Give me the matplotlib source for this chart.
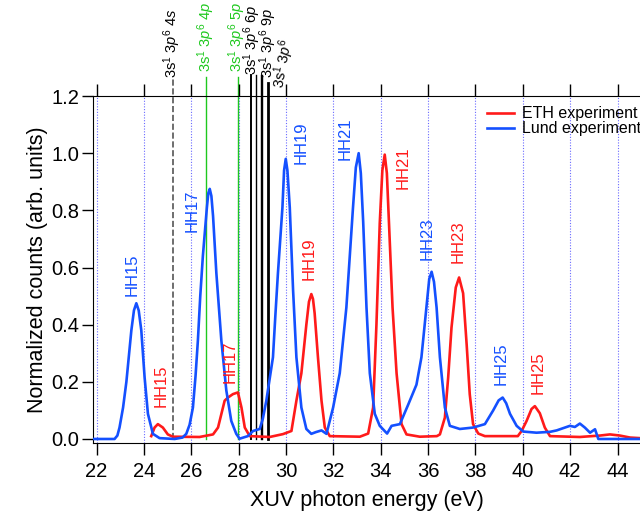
import matplotlib
matplotlib.use('Agg')
import matplotlib.pyplot as plt

plt.rcParams['font.family'] = ['Liberation Sans', 'DejaVu Sans']
plt.rcParams['mathtext.fontset'] = 'custom'
plt.rcParams['mathtext.rm'] = 'Liberation Sans'
plt.rcParams['mathtext.it'] = 'Liberation Sans:italic'

RED = '#ff1a1a'
BLUE = '#1450ff'
GREEN = '#1ec81e'

# Lund experiment (blue)
lund_e = [21.83, 22.76, 22.88, 22.97, 23.12, 23.26, 23.47, 23.58, 23.68, 23.78,
          23.89, 24.03, 24.17, 24.38, 24.66, 25.30, 25.63, 25.79, 25.93, 26.07,
          26.18, 26.28, 26.38, 26.49, 26.66, 26.72, 26.78, 26.85, 26.92, 27.06,
          27.27, 27.48, 27.69, 27.90, 28.04, 28.39, 28.61, 28.89, 29.02, 29.17,
          29.45, 29.55, 29.66, 29.85, 29.92, 29.99, 30.06, 30.16, 30.30, 30.44,
          30.65, 30.86, 31.07, 31.26, 31.50, 31.71, 31.99, 32.27, 32.55, 32.83,
          32.95, 33.07, 33.16, 33.26, 33.40, 33.54, 33.75, 33.96, 34.27, 34.46,
          34.81, 35.16, 35.51, 35.72, 35.93, 36.05, 36.15, 36.25, 36.36, 36.50,
          36.71, 36.92, 37.34, 37.90, 38.40, 38.75, 38.98, 39.15, 39.30, 39.46,
          39.74, 40.02, 40.58, 41.15, 41.43, 41.99, 42.20, 42.41, 42.62, 42.84,
          43.05, 43.19, 44.95]
lund_v = [0.0, 0.0, 0.012, 0.04, 0.11, 0.20, 0.38, 0.45, 0.475, 0.45,
          0.38, 0.215, 0.088, 0.018, 0.003, 0.0, 0.005, 0.018, 0.05, 0.11,
          0.22, 0.345, 0.50, 0.64, 0.81, 0.86, 0.875, 0.85, 0.78, 0.58,
          0.345, 0.17, 0.063, 0.018, 0.001, 0.01, 0.028, 0.035, 0.07, 0.134,
          0.286, 0.43, 0.58, 0.81, 0.94, 0.98, 0.94, 0.81, 0.52, 0.286,
          0.11, 0.035, 0.018, 0.024, 0.03, 0.018, 0.11, 0.23, 0.46, 0.81,
          0.95, 1.0, 0.93, 0.76, 0.46, 0.23, 0.088, 0.046, 0.019, 0.046,
          0.052, 0.12, 0.19, 0.286, 0.46, 0.56, 0.585, 0.55, 0.46, 0.286,
          0.11, 0.046, 0.035, 0.04, 0.052, 0.10, 0.135, 0.145, 0.125, 0.088,
          0.046, 0.026, 0.022, 0.025, 0.03, 0.046, 0.042, 0.054, 0.04, 0.022,
          0.034, 0.0, 0.0]

# ETH experiment (red)
eth_e = [24.31, 24.45, 24.59, 24.80, 25.01, 25.22, 26.35, 26.92, 27.13, 27.27,
         27.41, 27.55, 27.76, 27.97, 28.12, 28.26, 28.47, 29.31, 29.87, 30.23,
         30.44, 30.65, 30.86, 30.97, 31.07, 31.14, 31.21, 31.35, 31.50, 31.64,
         31.85, 33.12, 33.47, 33.68, 33.82, 33.96, 34.07, 34.17, 34.26, 34.35,
         34.50, 34.67, 34.88, 35.09, 35.65, 36.37, 36.50, 36.71, 36.85, 36.99,
         37.17, 37.31, 37.48, 37.63, 37.76, 37.90, 38.12, 38.40, 39.79, 39.95,
         40.16, 40.37, 40.51, 40.72, 40.93, 41.15, 42.41, 43.26, 43.68, 44.10,
         44.53, 44.95]
eth_v = [0.01, 0.04, 0.052, 0.04, 0.016, 0.008, 0.007, 0.016, 0.04, 0.087,
         0.134, 0.145, 0.157, 0.163, 0.11, 0.04, 0.01, 0.007, 0.017, 0.028,
         0.134, 0.23, 0.40, 0.48, 0.507, 0.49, 0.44, 0.286, 0.134, 0.04,
         0.01, 0.008, 0.019, 0.11, 0.40, 0.755, 0.94, 0.995, 0.93, 0.755,
         0.46, 0.23, 0.052, 0.016, 0.008, 0.01, 0.016, 0.075, 0.216, 0.39,
         0.53, 0.565, 0.51, 0.33, 0.157, 0.052, 0.019, 0.01, 0.01, 0.028,
         0.063, 0.105, 0.115, 0.09, 0.04, 0.01, 0.007, 0.012, 0.016, 0.012,
         0.005, 0.003]

# harmonic labels
hh_text = ['HH15', 'HH15', 'HH17', 'HH17', 'HH19', 'HH19',
           'HH21', 'HH21', 'HH23', 'HH23', 'HH25', 'HH25']
hh_series = ['lund', 'eth', 'lund', 'eth', 'lund', 'eth',
             'lund', 'eth', 'lund', 'eth', 'lund', 'eth']
hh_e = [23.49, 24.74, 26.05, 27.65, 30.65, 30.97,
        32.49, 34.94, 35.96, 37.26, 39.10, 40.64]
hh_v = [0.574, 0.187, 0.80, 0.27, 1.035, 0.63,
        1.05, 0.95, 0.70, 0.69, 0.264, 0.232]

# Ar+ 3s -> np transitions
lvl_e = [25.21, 26.61, 27.99, 28.51, 28.75, 28.93, 29.00, 29.24]
lvl_top = [1.265, 1.267, 1.267, 1.274, 1.274, 1.274, 1.274, 1.246]
lvl_text = ['3s$^1$ 3$p^6$ 4$s$', '3s$^1$ 3$p^6$ 4$p$', '3s$^1$ 3$p^6$ 5$p$',
            '3s$^1$ 3$p^6$ 6$p$', '3s$^1$ 3$p^6$ 9$p$', '3s$^1$ 3$p^6$']
lvl_text_e = [25.21, 26.61, 27.92, 28.58, 29.24, 29.90]
lvl_text_v = [1.263, 1.284, 1.284, 1.274, 1.263, 1.221]
lvl_text_col = ['k', GREEN, GREEN, 'k', 'k', 'k']

xticks = [22, 24, 26, 28, 30, 32, 34, 36, 38, 40, 42, 44]
yticks = [0.0, 0.2, 0.4, 0.6, 0.8, 1.0, 1.2]

fig = plt.figure(figsize=(6.4, 5.11), dpi=100)
ax = fig.add_axes([0.1453, 0.1331, 0.8547, 0.679])

for x in xticks:
    ax.axvline(x, color='#6a6aff', lw=0.8, ls=(0, (1, 1.5)), zorder=0)

styles = ['--', '-', '-', '-', '-', '-', '-', '-']
colors = ['#555555', GREEN, GREEN, 'k', 'k', 'k', 'k', 'k']
widths = [1.2, 1.0, 1.0, 1.4, 1.0, 1.0, 1.0, 2.0]
for e, top, ls, c, lw in zip(lvl_e, lvl_top, styles, colors, widths):
    ax.plot([e, e], [0, top], ls=ls, color=c, lw=lw, clip_on=False, zorder=1)

ax.plot(eth_e, eth_v, color=RED, lw=1.9, label='ETH experiment', zorder=3,
        solid_joinstyle='round')
ax.plot(lund_e, lund_v, color=BLUE, lw=1.9, label='Lund experiment', zorder=3,
        solid_joinstyle='round')

for t, s, e, v in zip(hh_text, hh_series, hh_e, hh_v):
    ax.text(e, v, t, rotation=90, ha='center', va='center', fontsize=12,
            color=BLUE if s == 'lund' else RED)

for i, (t, e, v, c) in enumerate(zip(lvl_text, lvl_text_e, lvl_text_v, lvl_text_col)):
    ax.text(e, v, t, rotation=80 if i == len(lvl_text) - 1 else 90,
            ha='center', va='bottom', fontsize=10.5, color=c, clip_on=False)

ax.set_xlim(21.85, 44.95)
ax.set_ylim(-0.014, 1.2)
ax.set_xticks(xticks)
ax.set_yticks(yticks)
ax.set_yticklabels(['%.1f' % y for y in yticks])
ax.spines['right'].set_visible(False)
ax.tick_params(axis='x', top=True, direction='out', length=8.5, width=1, labelsize=14.5, pad=5)
ax.tick_params(axis='y', direction='out', length=8, width=1, labelsize=14.5, pad=2)
ax.set_xlabel('XUV photon energy (eV)', fontsize=15.5, labelpad=7)
ax.set_ylabel('Normalized counts (arb. units)', fontsize=15.5, labelpad=2)

ax.legend(loc='upper left', bbox_to_anchor=(0.72, 0.97), frameon=False,
          fontsize=11.5, handlelength=1.7, handletextpad=0.5,
          borderpad=0, borderaxespad=0, labelspacing=0.0)

fig.savefig('out.png', dpi=100)
